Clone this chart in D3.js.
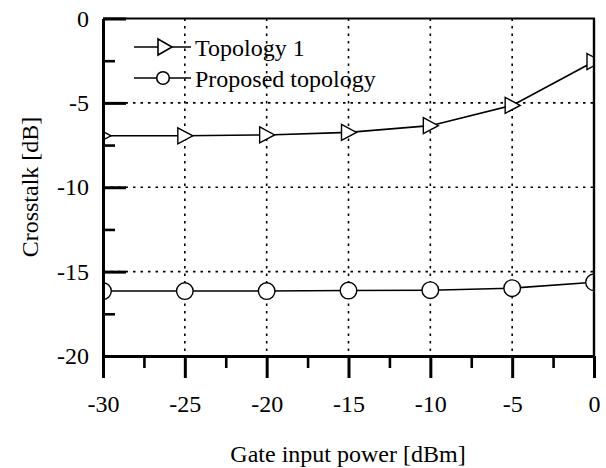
<!doctype html>
<html>
  <head>
    <meta charset="UTF-8">
    <title>crosstalk</title>
    <script src="https://d3js.org/d3.v7.min.js"></script>
    <style>
      body { margin: 0; background: #fff; }
      svg { font-family: "Liberation Serif", "Times New Roman", serif; }
      .grid line { stroke: #000; stroke-width: 1.6px; stroke-dasharray: 2.5,5; }
    </style>
  </head>
  <body>
    <svg id="chart" width="606" height="468"></svg>
    <script>
      // Data
      const inputPower = [-30, -25, -20, -15, -10, -5, 0];
      const topology1 = [-6.95, -6.95, -6.9, -6.75, -6.35, -5.15, -2.55];
      const proposed = [-16.15, -16.15, -16.15, -16.12, -16.1, -15.98, -15.63];
      const seriesNames = ["Topology 1", "Proposed topology"];
      const xTicks = [-30, -25, -20, -15, -10, -5, 0];
      const yTicks = [0, -5, -10, -15, -20];

      const svg = d3.select("#chart");
      const pLeft = 103, pRight = 594, pTop = 18.5, pBottom = 356;
      const fmt = d => String(d); // plain hyphen minus like the original

      const x = d3.scaleLinear().domain([-30, 0]).range([pLeft, pRight]);
      const y = d3.scaleLinear().domain([-20, 0]).range([pBottom, pTop]);

      // dotted grid (inner lines only)
      const grid = svg.append("g").attr("class", "grid");
      grid.selectAll(".gx").data(xTicks.slice(1, -1)).enter().append("line")
        .attr("x1", d => x(d)).attr("x2", d => x(d))
        .attr("y1", pTop).attr("y2", pBottom);
      grid.selectAll(".gy").data(yTicks.slice(1, -1)).enter().append("line")
        .attr("y1", d => y(d)).attr("y2", d => y(d))
        .attr("x1", pLeft).attr("x2", pRight);

      // clip markers to the plot area
      svg.append("clipPath").attr("id", "plot")
        .append("rect").attr("x", pLeft).attr("y", pTop)
        .attr("width", pRight - pLeft).attr("height", pBottom - pTop);

      const line = d3.line().x(d => x(d[0])).y(d => y(d[1]));
      const tri = d3.symbol().type({
        draw(ctx) { ctx.moveTo(-7, -8); ctx.lineTo(8, 0); ctx.lineTo(-7, 8); ctx.closePath(); }
      })();
      const triSmall = d3.symbol().type({
        draw(ctx) { ctx.moveTo(-7, -8); ctx.lineTo(7, 0); ctx.lineTo(-7, 8); ctx.closePath(); }
      })();

      const plot = svg.append("g").attr("clip-path", "url(#plot)");
      const s1 = inputPower.map((p, i) => [p, topology1[i]]);
      const s2 = inputPower.map((p, i) => [p, proposed[i]]);

      plot.append("path").datum(s1).attr("d", line)
        .attr("fill", "none").attr("stroke", "#000").attr("stroke-width", 1.6);
      plot.append("path").datum(s2).attr("d", line)
        .attr("fill", "none").attr("stroke", "#000").attr("stroke-width", 1.6);

      plot.selectAll(".m1").data(s1).enter().append("path")
        .attr("transform", d => `translate(${x(d[0])},${y(d[1])})`)
        .attr("d", tri).attr("fill", "#fff").attr("stroke", "#000").attr("stroke-width", 1.4);
      plot.selectAll(".m2").data(s2).enter().append("circle")
        .attr("cx", d => x(d[0])).attr("cy", d => y(d[1])).attr("r", 8.3)
        .attr("fill", "#fff").attr("stroke", "#000").attr("stroke-width", 1.4);

      // frame top/right
      svg.append("line").attr("x1", pLeft).attr("x2", pRight + 1).attr("y1", pTop).attr("y2", pTop)
        .attr("stroke", "#000").attr("stroke-width", 2.2);
      svg.append("line").attr("x1", pRight).attr("x2", pRight).attr("y1", pTop).attr("y2", pBottom)
        .attr("stroke", "#000").attr("stroke-width", 2.4);

      // minor ticks
      const xMinor = xTicks.slice(0, -1).map(d => d + 2.5);
      const yMinor = yTicks.slice(0, -1).map(d => d - 2.5);
      svg.append("g").attr("transform", `translate(0,${pBottom})`)
        .call(d3.axisBottom(x).tickValues(xMinor).tickSize(12).tickFormat(""))
        .call(g => g.select(".domain").remove())
        .selectAll("line").attr("stroke-width", 2.6);
      svg.append("g").attr("transform", `translate(${pLeft},0)`)
        .call(d3.axisLeft(y).tickValues(yMinor).tickSize(-12).tickFormat(""))
        .call(g => g.select(".domain").remove())
        .selectAll("line").attr("stroke-width", 2.6);

      // major axes
      const xAxis = svg.append("g").attr("transform", `translate(0,${pBottom})`)
        .call(d3.axisBottom(x).tickValues(xTicks).tickSize(22).tickPadding(17)
          .tickSizeOuter(0).tickFormat(fmt));
      xAxis.select(".domain").attr("stroke-width", 3);
      xAxis.selectAll("line").attr("stroke-width", 3);
      xAxis.selectAll("text").attr("font-size", 24).attr("fill", "#000")
        .attr("font-family", "Liberation Serif, Times New Roman, serif");

      const yAxis = svg.append("g").attr("transform", `translate(${pLeft},0)`)
        .call(d3.axisLeft(y).tickValues(yTicks).tickSize(-23).tickPadding(14)
          .tickSizeOuter(0).tickFormat(fmt));
      yAxis.select(".domain").attr("stroke-width", 3);
      yAxis.selectAll("line").attr("stroke-width", 3);
      yAxis.selectAll("text").attr("font-size", 24).attr("fill", "#000")
        .attr("font-family", "Liberation Serif, Times New Roman, serif");

      // axis titles
      svg.append("text").attr("x", 348).attr("y", 462).attr("text-anchor", "middle")
        .attr("font-size", 24).text("Gate input power [dBm]");
      svg.append("text").attr("transform", `translate(38,187) rotate(-90)`)
        .attr("text-anchor", "middle").attr("font-size", 24).text("Crosstalk [dB]");

      // legend
      const legend = svg.append("g");
      const rows = [47, 78];
      rows.forEach((ry, i) => {
        legend.append("line").attr("x1", 134).attr("x2", 191).attr("y1", ry).attr("y2", ry)
          .attr("stroke", "#000").attr("stroke-width", 1.6);
        if (i === 0) {
          legend.append("path").attr("d", triSmall).attr("transform", `translate(165,${ry})`)
            .attr("fill", "#fff").attr("stroke", "#000").attr("stroke-width", 1.6);
        } else {
          legend.append("circle").attr("cx", 163).attr("cy", ry).attr("r", 6.3)
            .attr("fill", "#fff").attr("stroke", "#000").attr("stroke-width", 1.6);
        }
        legend.append("text").attr("x", 195).attr("y", ry + 8.5)
          .attr("font-size", 24).text(seriesNames[i]);
      });
    </script>
  </body>
</html>
